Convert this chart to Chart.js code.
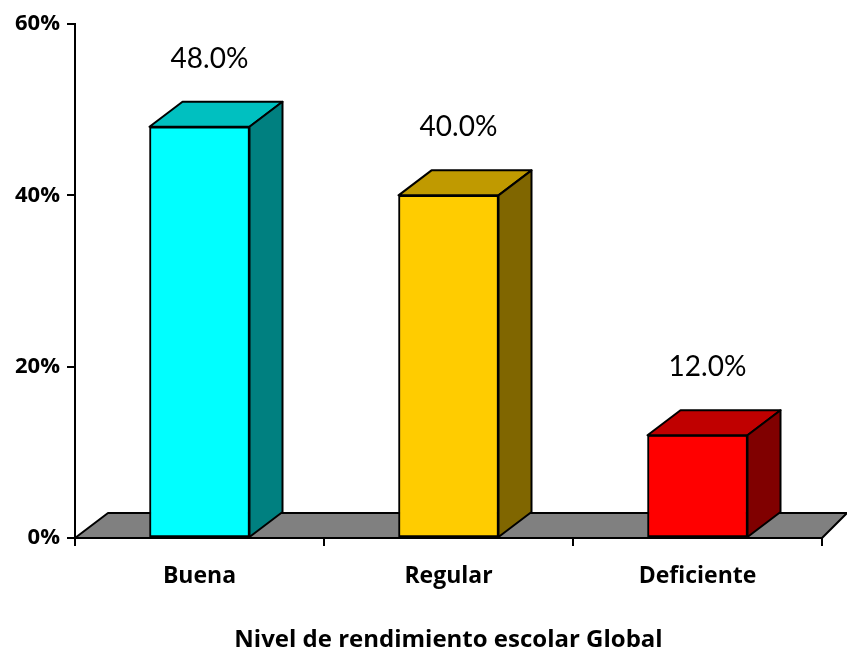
<!DOCTYPE html>
<html>
<head>
<meta charset="utf-8">
<script src="https://cdn.jsdelivr.net/npm/chart.js@4"></script>
<style>body{margin:0;background:#fff}</style>
</head>
<body>
<canvas id="chart" width="847" height="651"></canvas>
<script>
const categories = ['Buena', 'Regular', 'Deficiente'];
const values = [48.0, 40.0, 12.0];
const yTicks = [0, 20, 40, 60];
const frontColors = ['#00FFFF', '#FFCC00', '#FF0000'];
const topColors = ['#00C0C0', '#C09A00', '#C00000'];
const sideColors = ['#008080', '#806600', '#800000'];
const axisTitle = 'Nivel de rendimiento escolar Global';

const DX = 33, DY = 25;
const FONT = 'Lato, "Open Sans", sans-serif';
const BOLD_FONT = '"Open Sans", Lato, sans-serif';

function poly(ctx, pts, fill) {
  ctx.beginPath();
  ctx.moveTo(pts[0][0], pts[0][1]);
  for (let i = 1; i < pts.length; i++) ctx.lineTo(pts[i][0], pts[i][1]);
  ctx.closePath();
  ctx.fillStyle = fill;
  ctx.fill();
  ctx.stroke();
}

// floor + top/side faces + value labels
const bars3d = {
  id: 'bars3d',
  beforeDatasetsDraw(chart) {
    const {ctx, scales: {x, y}} = chart;
    const b = y.getPixelForValue(0);
    ctx.save();
    ctx.lineWidth = 2;
    ctx.strokeStyle = '#000';
    ctx.lineJoin = 'round';
    poly(ctx, [[x.left, b], [x.left + DX, b - DY], [x.right + 25, b - DY], [x.right, b]], '#808080');
    ctx.restore();
  },
  afterDatasetsDraw(chart) {
    const ctx = chart.ctx;
    const meta = chart.getDatasetMeta(0);
    ctx.save();
    ctx.lineWidth = 2;
    ctx.strokeStyle = '#000';
    ctx.lineJoin = 'round';
    meta.data.forEach((bar, i) => {
      const l = bar.x - bar.width / 2, r = bar.x + bar.width / 2;
      const t = bar.y, b = bar.base;
      poly(ctx, [[l, t], [l + DX, t - DY], [r + DX, t - DY], [r, t]], topColors[i]);
      poly(ctx, [[r, t], [r + DX, t - DY], [r + DX, b - DY], [r, b]], sideColors[i]);
      ctx.fillStyle = '#000';
      ctx.font = '28px ' + FONT;
      ctx.textAlign = 'center';
      ctx.textBaseline = 'middle';
      ctx.fillText(values[i].toFixed(1) + '%', bar.x + 10, t - 68);
    });
    ctx.restore();
  }
};

new Chart(document.getElementById('chart'), {
  type: 'bar',
  data: {
    labels: categories,
    datasets: [{
      data: values,
      backgroundColor: frontColors,
      borderColor: '#000',
      borderWidth: 2,
      borderSkipped: false,
      barThickness: 100
    }]
  },
  options: {
    responsive: false,
    animation: false,
    layout: {padding: {top: 24, right: 25, left: 0, bottom: 0}},
    plugins: {legend: {display: false}, tooltip: {enabled: false}},
    scales: {
      x: {
        grid: {drawOnChartArea: false, drawTicks: true, tickLength: 8, color: '#000', lineWidth: 2, offset: true},
        border: {color: '#000', width: 2},
        ticks: {color: '#000', font: {family: BOLD_FONT, size: 23, weight: 'bold'}, padding: 17},
        title: {display: true, text: axisTitle, color: '#000',
                font: {family: BOLD_FONT, size: 24, weight: 'bold'}, padding: {top: 4, bottom: -4}},
        afterFit(s) { s.height = 113; }
      },
      y: {
        min: 0, max: 60,
        afterBuildTicks(s) { s.ticks = yTicks.map(v => ({value: v})); },
        ticks: {color: '#000', font: {family: BOLD_FONT, size: 22, weight: 'bold'}, padding: 7,
                callback: v => v + '%'},
        grid: {drawOnChartArea: false, tickLength: 8, color: '#000', lineWidth: 2},
        border: {color: '#000', width: 2},
        afterFit(s) { s.width = 75; }
      }
    }
  },
  plugins: [bars3d]
});
</script>
</body>
</html>
